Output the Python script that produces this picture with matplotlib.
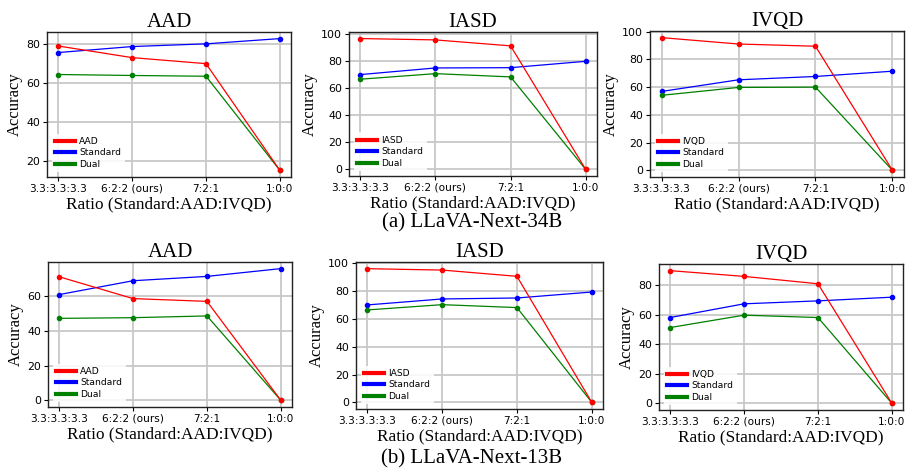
import matplotlib.pyplot as plt

ratios = ["3.3:3.3:3.3", "6:2:2 (ours)", "7:2:1", "1:0:0"]

# LLaVA-Next-34B
aad_34b = [79.1, 73.1, 70.0, 15.0]
aad_34b_std = [75.7, 78.8, 80.2, 82.9]
aad_34b_dual = [64.4, 63.9, 63.5, 15.0]

iasd_34b = [96.6, 95.6, 91.2, 0.0]
iasd_34b_std = [70.0, 74.9, 75.1, 79.8]
iasd_34b_dual = [66.6, 70.7, 68.3, 0.0]

ivqd_34b = [95.7, 91.1, 89.5, 0.0]
ivqd_34b_std = [56.9, 65.3, 67.7, 71.5]
ivqd_34b_dual = [54.1, 59.8, 60.0, 0.0]

# LLaVA-Next-13B
aad_13b = [71.3, 58.7, 57.1, 0.0]
aad_13b_std = [61.0, 69.0, 71.5, 76.0]
aad_13b_dual = [47.3, 47.7, 48.7, 0.0]

iasd_13b = [96.2, 95.2, 90.7, 0.0]
iasd_13b_std = [70.1, 74.4, 75.1, 79.4]
iasd_13b_dual = [66.5, 70.3, 68.2, 0.0]

ivqd_13b = [90.0, 86.1, 81.1, 0.0]
ivqd_13b_std = [58.2, 67.5, 69.5, 72.0]
ivqd_13b_dual = [51.4, 59.8, 58.2, 0.0]

W, H = 909, 473
fig = plt.figure(figsize=(W / 100, H / 100), dpi=100)

serif = ["Liberation Serif", "DejaVu Serif"]


def px_axes(x0, x1, top, bottom):
    return fig.add_axes([x0 / W, 1 - bottom / H, (x1 - x0) / W, (bottom - top) / H])


def panel(ax, name, task, std, dual):
    x = range(len(ratios))
    ax.plot(x, task, color="red", marker="o", ms=3, lw=0.9, label=name)
    ax.plot(x, std, color="blue", marker="o", ms=3, lw=0.9, label="Standard")
    ax.plot(x, dual, color="green", marker="o", ms=3, lw=0.9, label="Dual")
    # keep the task curve on top of the others
    ax.lines[0].set_zorder(3)
    ax.set_xticks(list(x))
    ax.set_xticklabels(ratios, fontsize=7.6)
    ax.tick_params(axis="y", labelsize=7.9, length=3, pad=2)
    ax.tick_params(axis="x", length=3, pad=2)
    ax.grid(True, color="#c8c8c8", lw=1.3)
    ax.set_axisbelow(True)
    for s in ax.spines.values():
        s.set_color("#222222")
        s.set_linewidth(1.0)
    ax.set_title(name, family=serif, fontsize=15, pad=3)
    ax.set_xlabel("Ratio (Standard:AAD:IVQD)", family=serif, fontsize=12.4, labelpad=2)
    ax.set_ylabel("Accuracy", family=serif, fontsize=12, labelpad=2)
    leg = ax.legend(loc="lower left", fontsize=6.6, handlelength=2.2, handletextpad=0.4,
                    labelspacing=0.25, borderpad=0.4, frameon=True, fancybox=False)
    leg.get_frame().set_edgecolor("none")
    leg.get_frame().set_alpha(0.85)
    for h in leg.get_lines():
        h.set_linewidth(3)
        h.set_marker("")


panel(px_axes(47, 291, 32, 177), "AAD", aad_34b, aad_34b_std, aad_34b_dual)
panel(px_axes(349, 597, 32, 176), "IASD", iasd_34b, iasd_34b_std, iasd_34b_dual)
panel(px_axes(650, 904, 31, 177), "IVQD", ivqd_34b, ivqd_34b_std, ivqd_34b_dual)
panel(px_axes(48, 292, 262, 407), "AAD", aad_13b, aad_13b_std, aad_13b_dual)
panel(px_axes(356, 603, 262, 409), "IASD", iasd_13b, iasd_13b_std, iasd_13b_dual)
panel(px_axes(659, 903, 264, 410), "IVQD", ivqd_13b, ivqd_13b_std, ivqd_13b_dual)

fig.text(472 / W, 1 - 223 / H, "(a) LLaVA-Next-34B", family=serif, fontsize=15,
         ha="center", va="center")
fig.text(472 / W, 1 - 459 / H, "(b) LLaVA-Next-13B", family=serif, fontsize=15,
         ha="center", va="center")

fig.savefig("out.png", dpi=100)
